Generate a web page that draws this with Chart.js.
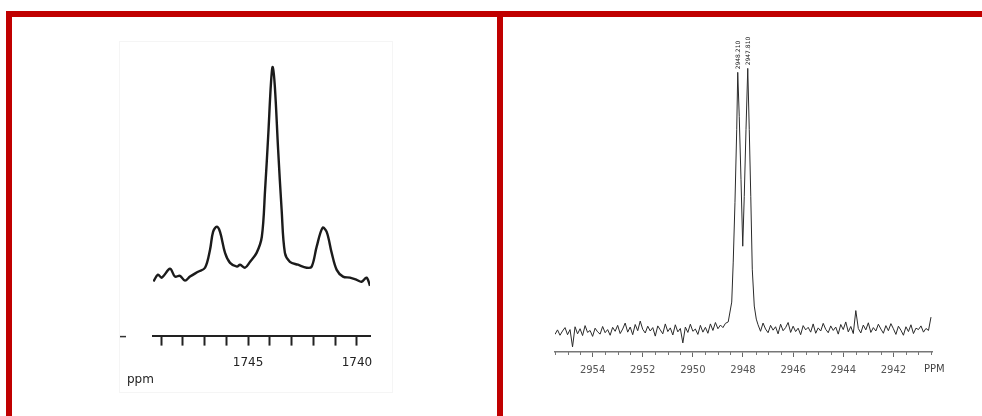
<!DOCTYPE html>
<html>
<head>
<meta charset="utf-8">
<script src="https://cdn.jsdelivr.net/npm/chart.js@4.4.0/dist/chart.umd.min.js"></script>
<style>
  html, body { margin: 0; padding: 0; background: #fff; }
  body { width: 982px; height: 416px; position: relative; overflow: hidden; }
  .bar { position: absolute; background: #c00000; }
  .wrap { position: absolute; }
  .scan { position: absolute; left: 119px; top: 41px; width: 272px; height: 350px; border: 1px solid #f5f5f5; }
</style>
</head>
<body>
<div class="scan"></div>
<div class="bar" style="left:6px;top:11px;width:976px;height:6px"></div>
<div class="bar" style="left:6px;top:11px;width:6px;height:405px"></div>
<div class="bar" style="left:497px;top:11px;width:6px;height:405px"></div>
<div class="wrap" style="left:120px;top:44px;width:280px;height:356px"><canvas id="left"></canvas></div>
<div class="wrap" style="left:530px;top:30px;width:440px;height:370px"><canvas id="right"></canvas></div>

<script>
// --- left spectrum (triplet around 1744 ppm) ---
const leftPpm = [1749.35, 1749.14, 1748.97, 1748.59, 1748.36, 1748.13, 1747.90, 1747.67, 1747.30, 1746.98,
  1746.75, 1746.61, 1746.44, 1746.29, 1746.06, 1745.83, 1745.51, 1745.37, 1745.14, 1744.91,
  1744.61, 1744.37, 1744.22, 1744.07, 1743.95, 1743.87, 1743.77, 1743.62, 1743.46, 1743.31,
  1743.08, 1742.71, 1742.31, 1742.08, 1741.85, 1741.58, 1741.39, 1741.16, 1740.93, 1740.64,
  1740.32, 1740.01, 1739.79, 1739.56, 1739.40];
const leftInt = [20.1, 22.6, 21.5, 24.8, 21.9, 22.2, 20.4, 21.9, 23.7, 25.2,
  31.9, 38.5, 40.4, 38.5, 30.7, 27.0, 25.6, 26.3, 25.2, 27.4,
  30.7, 36.7, 54.1, 75.2, 93.7, 99.7, 92.2, 68.9, 46.7, 30.7,
  27.4, 26.3, 25.2, 25.6, 33.0, 40.0, 38.5, 30.7, 24.4, 21.9,
  21.5, 20.7, 20.0, 21.5, 18.5];
const leftTicks = [1749, 1748, 1747, 1746, 1745, 1744, 1743, 1742, 1741, 1740];
const leftLabeled = [1745, 1740];

// --- right spectrum (doublet near 2948 ppm) ---
const noiseLeftPpm = [2955.5, 2955.4, 2955.3, 2955.2, 2955.1, 2955.0, 2954.9, 2954.8, 2954.7, 2954.6,
  2954.5, 2954.4, 2954.3, 2954.2, 2954.1, 2954.0, 2953.9, 2953.8, 2953.7, 2953.6,
  2953.5, 2953.4, 2953.3, 2953.2, 2953.1, 2953.0, 2952.9, 2952.8, 2952.7, 2952.6,
  2952.5, 2952.4, 2952.3, 2952.2, 2952.1, 2952.0, 2951.9, 2951.8, 2951.7, 2951.6,
  2951.5, 2951.4, 2951.3, 2951.2, 2951.1, 2951.0, 2950.9, 2950.8, 2950.7, 2950.6,
  2950.5, 2950.4, 2950.3, 2950.2, 2950.1, 2950.0, 2949.9, 2949.8, 2949.7, 2949.6,
  2949.5, 2949.4, 2949.3, 2949.2, 2949.1, 2949.0, 2948.9, 2948.8, 2948.7];
const noiseLeftInt = [6.2, 7.8, 5.9, 7.4, 8.6, 6.1, 7.9, 1.8, 8.9, 6.4,
  8.2, 5.8, 9.3, 6.9, 7.6, 5.5, 8.4, 7.1, 6.3, 9.0,
  6.8, 7.9, 5.9, 8.7, 7.3, 9.4, 6.5, 8.1, 10.2, 7.0,
  8.8, 6.1, 9.7, 7.5, 10.9, 8.0, 6.7, 9.1, 7.4, 8.6,
  5.6, 9.2, 7.8, 6.4, 9.9, 7.2, 8.5, 6.0, 9.6, 7.1,
  8.3, 3.2, 8.8, 6.9, 9.8, 7.3, 8.1, 6.2, 9.4, 7.0,
  8.7, 6.6, 9.9, 7.6, 10.4, 8.2, 9.5, 8.6, 10.1];
const peakPpm = [2948.59, 2948.45, 2948.39, 2948.32, 2948.25, 2948.21, 2948.15, 2948.08, 2948.01,
  2947.95, 2947.88, 2947.81, 2947.75, 2947.69, 2947.63, 2947.55, 2947.47];
const peakInt = [10.6, 17.6, 31.7, 52.8, 78.5, 98.6, 83.1, 60.9, 37.3,
  54.9, 78.5, 100, 78.5, 54.9, 29.2, 16.2, 11.6];
const noiseRightPpm = [2947.4, 2947.3, 2947.2, 2947.1, 2947.0, 2946.9, 2946.8, 2946.7, 2946.6, 2946.5,
  2946.4, 2946.3, 2946.2, 2946.1, 2946.0, 2945.9, 2945.8, 2945.7, 2945.6, 2945.5,
  2945.4, 2945.3, 2945.2, 2945.1, 2945.0, 2944.9, 2944.8, 2944.7, 2944.6, 2944.5,
  2944.4, 2944.3, 2944.2, 2944.1, 2944.0, 2943.9, 2943.8, 2943.7, 2943.6, 2943.5,
  2943.4, 2943.3, 2943.2, 2943.1, 2943.0, 2942.9, 2942.8, 2942.7, 2942.6, 2942.5,
  2942.4, 2942.3, 2942.2, 2942.1, 2942.0, 2941.9, 2941.8, 2941.7, 2941.6, 2941.5,
  2941.4, 2941.3, 2941.2, 2941.1, 2941.0, 2940.9, 2940.8, 2940.7, 2940.6, 2940.5];
const noiseRightInt = [9.6, 7.3, 10.2, 8.1, 6.8, 9.4, 7.7, 8.9, 6.4, 9.8,
  7.5, 8.6, 10.4, 6.9, 9.1, 7.2, 8.4, 6.1, 9.3, 7.8,
  8.7, 7.0, 9.9, 6.6, 8.5, 7.4, 10.1, 8.0, 6.8, 9.2,
  7.6, 8.8, 6.3, 9.7, 7.9, 10.6, 7.1, 9.0, 6.5, 14.6,
  8.3, 6.7, 9.5, 7.8, 10.3, 6.9, 8.6, 7.4, 9.8, 8.1,
  6.6, 9.3, 7.5, 10.0, 8.2, 6.2, 9.1, 7.7, 5.9, 8.9,
  7.2, 9.6, 6.5, 8.4, 7.9, 9.2, 7.0, 8.3, 7.6, 12.3];
// peak maxima printed above the doublet
const peakTops = [2948.21, 2947.81];
const rightMajor = [2954, 2952, 2950, 2948, 2946, 2944, 2942];
const rightMinor = [2955.5, 2955, 2954.5, 2953.5, 2953, 2952.5, 2951.5, 2951, 2950.5, 2949.5, 2949,
  2948.5, 2947.5, 2947, 2946.5, 2945.5, 2945, 2944.5, 2943.5, 2943, 2942.5, 2941.5, 2941, 2940.5];

const pairs = (xs, ys) => xs.map((x, i) => ({ x: x, y: ys[i] }));

// "ppm" caption and the small baseline dash left of the axis
const leftDecor = {
  id: 'leftDecor',
  afterDraw(chart) {
    const { ctx, chartArea } = chart;
    ctx.save();
    ctx.fillStyle = '#222';
    ctx.font = '12px "DejaVu Sans"';
    ctx.textBaseline = 'middle';
    ctx.fillText('ppm', chartArea.left - 26, chartArea.bottom + 44);
    ctx.strokeStyle = '#333';
    ctx.lineWidth = 1.5;
    ctx.beginPath();
    ctx.moveTo(chartArea.left - 35, chartArea.bottom + 1);
    ctx.lineTo(chartArea.left - 27, chartArea.bottom + 1);
    ctx.stroke();
    ctx.restore();
  }
};

// minor ticks, peak position labels and the PPM unit
const rightDecor = {
  id: 'rightDecor',
  afterDraw(chart) {
    const { ctx, chartArea } = chart;
    const xs = chart.scales.x, ys = chart.scales.y;
    ctx.save();
    ctx.strokeStyle = '#777';
    ctx.lineWidth = 1;
    rightMinor.forEach(v => {
      const px = Math.round(xs.getPixelForValue(v)) + 0.5;
      ctx.beginPath();
      ctx.moveTo(px, chartArea.bottom);
      ctx.lineTo(px, chartArea.bottom + 3);
      ctx.stroke();
    });
    ctx.fillStyle = '#444';
    ctx.font = '10px "DejaVu Sans"';
    ctx.textBaseline = 'middle';
    ctx.fillText('PPM', chartArea.right - 8, chartArea.bottom + 17);
    ctx.fillStyle = '#222';
    ctx.font = '6px "DejaVu Sans"';
    peakTops.forEach(v => {
      const i = peakPpm.indexOf(v);
      const px = xs.getPixelForValue(v);
      const py = ys.getPixelForValue(peakInt[i]);
      ctx.save();
      ctx.translate(px + 1, py - 3);
      ctx.rotate(-Math.PI / 2);
      ctx.textBaseline = 'middle';
      ctx.textAlign = 'left';
      ctx.fillText(v.toFixed(3), 0, 0);
      ctx.restore();
    });
    ctx.restore();
  }
};

new Chart(document.getElementById('left'), {
  type: 'line',
  data: {
    datasets: [{
      data: pairs(leftPpm, leftInt),
      borderColor: '#1b1b1b',
      borderWidth: 2.4,
      pointRadius: 0,
      tension: 0.35,
      fill: false
    }]
  },
  options: {
    responsive: true,
    maintainAspectRatio: false,
    animation: false,
    layout: { padding: { top: 6, left: 33, right: 30, bottom: 20 } },
    plugins: { legend: { display: false }, tooltip: { enabled: false } },
    scales: {
      x: {
        type: 'linear',
        reverse: true,
        min: 1739.40,
        max: 1749.37,
        afterBuildTicks: (scale) => { scale.ticks = leftTicks.map(v => ({ value: v })); },
        grid: { drawOnChartArea: false, drawTicks: true, tickLength: 10, tickWidth: 2, tickColor: '#222' },
        border: { display: true, color: '#222', width: 2 },
        ticks: {
          autoSkip: false,
          maxRotation: 0,
          padding: 10,
          color: '#222',
          font: { family: 'DejaVu Sans', size: 12 },
          callback: (v) => leftLabeled.includes(v) ? String(v) : ''
        }
      },
      y: { display: false, min: 0, max: 106 }
    }
  },
  plugins: [leftDecor]
});

new Chart(document.getElementById('right'), {
  type: 'line',
  data: {
    datasets: [{
      data: pairs(noiseLeftPpm, noiseLeftInt)
        .concat(pairs(peakPpm, peakInt))
        .concat(pairs(noiseRightPpm, noiseRightInt)),
      borderColor: '#2a2a2a',
      borderWidth: 1,
      pointRadius: 0,
      tension: 0,
      fill: false
    }]
  },
  options: {
    responsive: true,
    maintainAspectRatio: false,
    animation: false,
    layout: { padding: { top: 10, left: 25, right: 38, bottom: 17 } },
    plugins: { legend: { display: false }, tooltip: { enabled: false } },
    scales: {
      x: {
        type: 'linear',
        reverse: true,
        min: 2940.46,
        max: 2955.5,
        afterBuildTicks: (scale) => { scale.ticks = rightMajor.map(v => ({ value: v })); },
        grid: { drawOnChartArea: false, drawTicks: true, tickLength: 5, tickWidth: 1, tickColor: '#666' },
        border: { display: true, color: '#777', width: 1.5 },
        ticks: {
          autoSkip: false,
          maxRotation: 0,
          padding: 7,
          color: '#555',
          font: { family: 'DejaVu Sans', size: 10 },
          callback: (v) => String(v)
        }
      },
      y: { display: false, min: 0, max: 110 }
    }
  },
  plugins: [rightDecor]
});
</script>
</body>
</html>
